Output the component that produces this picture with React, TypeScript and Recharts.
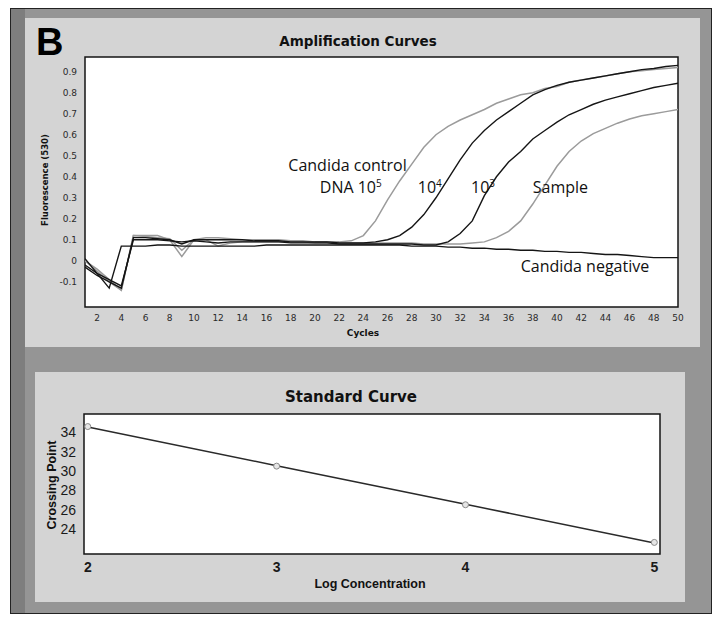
import { LineChart, Line, XAxis, YAxis, CartesianGrid, ReferenceArea, ReferenceDot } from 'recharts';

// amplification run, cycles 1..50
const cycles = [
  1, 2, 3, 4, 5, 6, 7, 8, 9, 10, 11, 12, 13, 14, 15, 16, 17, 18, 19, 20, 21, 22, 23, 24, 25,
  26, 27, 28, 29, 30, 31, 32, 33, 34, 35, 36, 37, 38, 39, 40, 41, 42, 43, 44, 45, 46, 47, 48, 49, 50,
];

const control1e5 = [
  0.0, -0.05, -0.1, -0.14, 0.12, 0.12, 0.12, 0.1, 0.02, 0.1, 0.11, 0.11, 0.105, 0.1, 0.1, 0.1, 0.1, 0.095, 0.095, 0.09, 0.09, 0.09, 0.095, 0.12, 0.19,
  0.29, 0.38, 0.46, 0.54, 0.6, 0.64, 0.67, 0.695, 0.72, 0.75, 0.77, 0.79, 0.8, 0.82, 0.83, 0.85, 0.86, 0.87, 0.88, 0.89, 0.9, 0.905, 0.91, 0.915, 0.92,
];

const control1e4 = [
  -0.03, -0.07, -0.1, -0.13, 0.11, 0.11, 0.105, 0.1, 0.08, 0.1, 0.1, 0.1, 0.1, 0.1, 0.095, 0.095, 0.095, 0.09, 0.09, 0.09, 0.09, 0.085, 0.085, 0.085, 0.09,
  0.1, 0.12, 0.16, 0.22, 0.3, 0.39, 0.48, 0.56, 0.62, 0.67, 0.71, 0.75, 0.79, 0.815, 0.835, 0.85, 0.86, 0.87, 0.88, 0.89, 0.9, 0.91, 0.915, 0.925, 0.93,
];

const control1e3 = [
  -0.02, -0.06, -0.09, -0.12, 0.1, 0.1, 0.1, 0.095, 0.09, 0.095, 0.09, 0.085, 0.09, 0.09, 0.09, 0.09, 0.09, 0.085, 0.085, 0.085, 0.085, 0.08, 0.08, 0.08, 0.08,
  0.08, 0.08, 0.08, 0.075, 0.075, 0.09, 0.13, 0.19, 0.31, 0.4, 0.47, 0.52, 0.58, 0.62, 0.66, 0.695, 0.72, 0.745, 0.765, 0.78, 0.795, 0.81, 0.825, 0.835, 0.845,
];

const sample = [
  0.0, -0.04, -0.09, -0.14, 0.12, 0.115, 0.11, 0.105, 0.05, 0.1, 0.1, 0.07, 0.085, 0.09, 0.09, 0.09, 0.09, 0.09, 0.09, 0.085, 0.085, 0.085, 0.085, 0.085, 0.085,
  0.085, 0.085, 0.085, 0.08, 0.08, 0.08, 0.08, 0.085, 0.09, 0.11, 0.14, 0.19, 0.27, 0.36, 0.45, 0.52, 0.57, 0.605, 0.63, 0.655, 0.675, 0.69, 0.7, 0.71, 0.72,
];

const negative = [
  0.01, -0.06, -0.13, 0.07, 0.07, 0.07, 0.075, 0.075, 0.07, 0.07, 0.07, 0.07, 0.07, 0.07, 0.07, 0.075, 0.075, 0.075, 0.075, 0.075, 0.075, 0.075, 0.075, 0.075, 0.075,
  0.075, 0.075, 0.07, 0.07, 0.07, 0.065, 0.065, 0.06, 0.06, 0.055, 0.055, 0.05, 0.05, 0.045, 0.045, 0.04, 0.04, 0.035, 0.03, 0.03, 0.025, 0.02, 0.015, 0.015, 0.015,
];

const fluorTicks = [-0.1, 0, 0.1, 0.2, 0.3, 0.4, 0.5, 0.6, 0.7, 0.8, 0.9];
const cycleTicks = [2, 4, 6, 8, 10, 12, 14, 16, 18, 20, 22, 24, 26, 28, 30, 32, 34, 36, 38, 40, 42, 44, 46, 48, 50];

// standard curve
const logConc = [2, 3, 4, 5];
const crossingPoint = [34.6, 30.5, 26.5, 22.6];
const fitLine = [34.55, 30.55, 26.55, 22.55];
const cpTicks = [24, 26, 28, 30, 32, 34];
const concTicks = [2, 3, 4, 5];

// curve labels, anchored in data units (left edge / baseline)
const annotations = [
  { cycle: 17.8, value: 0.425, text: 'Candida control', sup: '' },
  { cycle: 20.4, value: 0.325, text: 'DNA 10', sup: '5' },
  { cycle: 28.5, value: 0.325, text: '10', sup: '4' },
  { cycle: 32.9, value: 0.325, text: '10', sup: '3' },
  { cycle: 38.0, value: 0.325, text: 'Sample', sup: '' },
  { cycle: 37.0, value: -0.055, text: 'Candida negative', sup: '' },
];

const ampData = cycles.map((c, i) => ({
  cycle: c,
  c5: control1e5[i],
  c4: control1e4[i],
  c3: control1e3[i],
  smp: sample[i],
  neg: negative[i],
}));

const stdData = logConc.map((x, i) => ({ x, cp: crossingPoint[i], fit: fitLine[i] }));

const DARK = '#151515';
const GREY = '#9b9b9b';
const smallTick = { fontSize: 9, fill: '#2a2a2a', fontFamily: 'DejaVu Sans' };
const bigTick = { fontSize: 14, fill: '#1a1a1a', fontFamily: "'Liberation Sans Narrow', 'Liberation Sans'", fontWeight: 700 };

const annoLabel = (text: string, sup: string) => (p: any) => {
  const vb = p.viewBox || {};
  return (
    <text x={vb.x} y={vb.y} fontFamily="'Open Sans'" fontSize={16} fill="#111">
      {text}
      {sup ? (
        <tspan dy={-6} fontSize={10}>
          {sup}
        </tspan>
      ) : null}
    </text>
  );
};

export default function App() {
  return (
    <div style={{ position: 'absolute', left: 0, top: 0, width: 720, height: 618, background: '#fff' }}>
      {/* frame + panels */}
      <div
        style={{
          position: 'absolute', left: 10, top: 8, width: 702, height: 606,
          background: '#959595', border: '1px solid #222', boxSizing: 'border-box',
        }}
      />
      <div style={{ position: 'absolute', left: 11, top: 9, width: 14, height: 604, background: '#7e7e7e' }} />
      <div style={{ position: 'absolute', left: 25, top: 18, width: 675, height: 329, background: '#d4d4d4' }} />
      <div style={{ position: 'absolute', left: 35, top: 372, width: 650, height: 230, background: '#d4d4d4' }} />

      <div style={{ position: 'absolute', left: 25, top: 18 }}>
        <LineChart width={675} height={329} data={ampData} margin={{ top: 39, right: 22, bottom: 0, left: 0 }}>
          <CartesianGrid horizontal={false} vertical={false} fill="#fff" />
          <XAxis
            dataKey="cycle" type="number" domain={[1, 50]} ticks={cycleTicks} interval={0}
            height={40} tick={smallTick} tickLine={false} axisLine={false} allowDataOverflow
          />
          <YAxis
            type="number" domain={[-0.22, 0.97]} ticks={fluorTicks} interval={0} width={60}
            tick={smallTick} tickLine={false} axisLine={false} allowDataOverflow
            tickFormatter={(v: number) => (v === 0 ? '0' : v.toFixed(1))}
          />
          <ReferenceArea x1={1} x2={50} y1={-0.22} y2={0.97} fill="none" stroke={DARK} strokeWidth={1.5} />
          <Line dataKey="c5" stroke={GREY} strokeWidth={1.5} dot={false} isAnimationActive={false} />
          <Line dataKey="smp" stroke={GREY} strokeWidth={1.5} dot={false} isAnimationActive={false} />
          <Line dataKey="c4" stroke={DARK} strokeWidth={1.4} dot={false} isAnimationActive={false} />
          <Line dataKey="c3" stroke={DARK} strokeWidth={1.4} dot={false} isAnimationActive={false} />
          <Line dataKey="neg" stroke={DARK} strokeWidth={1.4} dot={false} isAnimationActive={false} />
          {annotations.map((a, i) => (
            <ReferenceDot
              key={i} x={a.cycle} y={a.value} r={0} fill="none" stroke="none"
              label={annoLabel(a.text, a.sup)}
            />
          ))}
        </LineChart>
      </div>

      <div style={{ position: 'absolute', left: 35, top: 372 }}>
        <LineChart width={650} height={230} data={stdData} margin={{ top: 42, right: 25, bottom: 0, left: 0 }}>
          <CartesianGrid horizontal={false} vertical={false} fill="#fff" />
          <XAxis
            dataKey="x" type="number" domain={[1.98, 5.03]} ticks={concTicks} interval={0}
            height={48} tick={bigTick} tickLine={false} axisLine={false} allowDataOverflow
          />
          <YAxis
            type="number" domain={[21.4, 35.9]} ticks={cpTicks} interval={0} width={49}
            tick={{ ...bigTick, fontWeight: 400 }} tickLine={false} axisLine={false} allowDataOverflow
          />
          <ReferenceArea x1={1.98} x2={5.03} y1={21.4} y2={35.9} fill="none" stroke={DARK} strokeWidth={1.5} />
          <Line dataKey="fit" stroke="#2a2a2a" strokeWidth={1.5} dot={false} isAnimationActive={false} />
          <Line
            dataKey="cp" stroke="none" isAnimationActive={false}
            dot={{ r: 3, stroke: '#8a8a8a', strokeWidth: 1, fill: '#e6e6e6' }}
          />
        </LineChart>
      </div>

      {/* titles */}
      <svg width={720} height={618} style={{ position: 'absolute', left: 0, top: 0, pointerEvents: 'none' }}>
        <text x={36} y={55} fontFamily="'Liberation Sans'" fontWeight={900} fontSize={38} fill="#000">B</text>
        <text x={358} y={46} textAnchor="middle" fontFamily="'DejaVu Sans'" fontWeight={700} fontSize={13.5} fill="#111">
          Amplification Curves
        </text>
        <text
          x={48} y={180} textAnchor="middle" transform="rotate(-90 48 180)"
          fontFamily="'DejaVu Sans'" fontWeight={700} fontSize={8.5} fill="#111"
        >
          Fluorescence (530)
        </text>
        <text x={363} y={336} textAnchor="middle" fontFamily="'DejaVu Sans'" fontWeight={700} fontSize={9} fill="#111">
          Cycles
        </text>
        <text x={351} y={402} textAnchor="middle" fontFamily="'DejaVu Sans'" fontWeight={700} fontSize={15} fill="#111">
          Standard Curve
        </text>
        <text
          x={56} y={485} textAnchor="middle" transform="rotate(-90 56 485)"
          fontFamily="'Liberation Sans'" fontWeight={700} fontSize={12.5} fill="#111"
        >
          Crossing Point
        </text>
        <text x={370} y={588} textAnchor="middle" fontFamily="'Liberation Sans'" fontWeight={700} fontSize={12.5} fill="#111">
          Log Concentration
        </text>
      </svg>
    </div>
  );
}
